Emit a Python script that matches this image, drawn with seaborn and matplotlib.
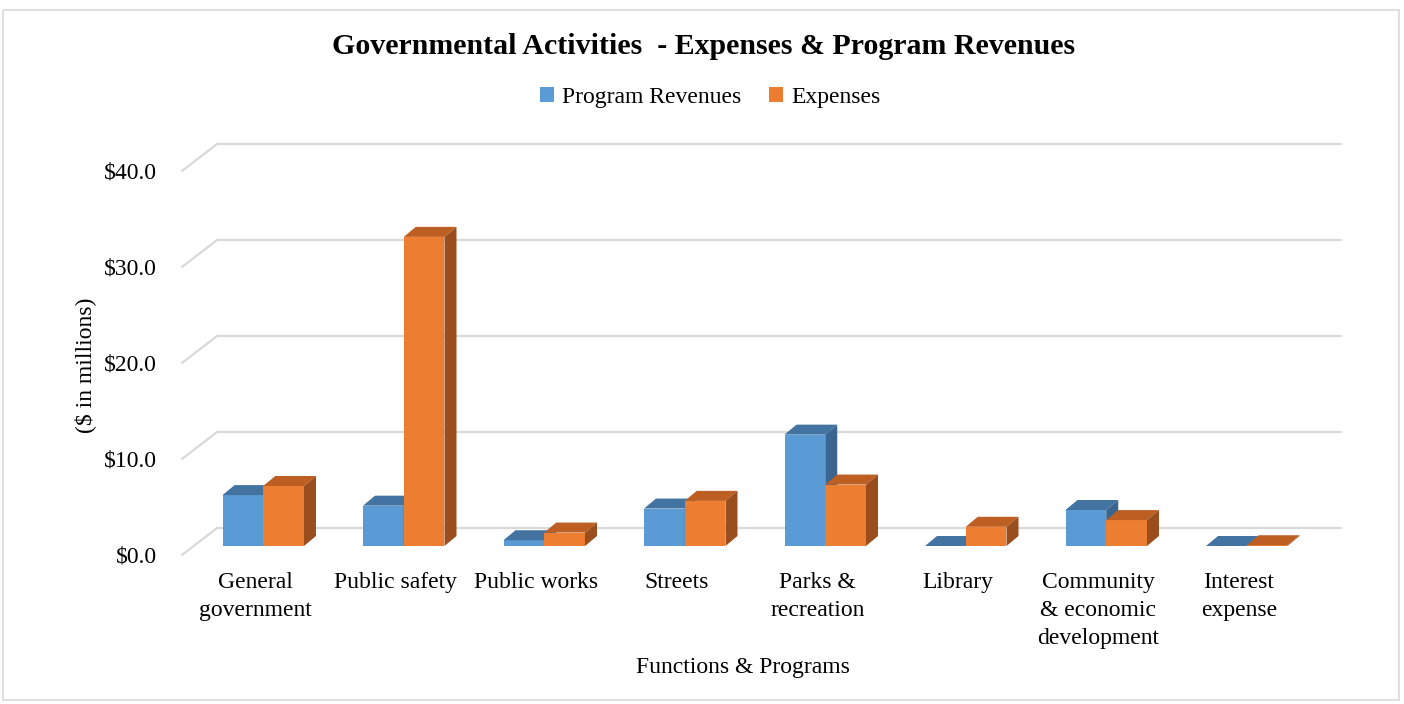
import matplotlib
matplotlib.use("Agg")
import matplotlib.pyplot as plt
import seaborn as sns
import pandas as pd
import numpy as np
from matplotlib.patches import Polygon, Rectangle, Patch
from matplotlib.lines import Line2D
from matplotlib.transforms import ScaledTranslation

categories = ["General\ngovernment", "Public safety", "Public works", "Streets",
              "Parks &\nrecreation", "Library", "Community\n& economic\ndevelopment",
              "Interest\nexpense"]
program_revenues = [5.3, 4.2, 0.6, 3.9, 11.6, 0.0, 3.75, 0.0]
expenses = [6.25, 32.2, 1.4, 4.7, 6.4, 2.0, 2.7, 0.08]
series_names = ["Program Revenues", "Expenses"]
y_ticks = [0, 10, 20, 30, 40]
y_tick_labels = ["$0.0", "$10.0", "$20.0", "$30.0", "$40.0"]

front_colors = {"Program Revenues": "#5B9BD5", "Expenses": "#ED7D31"}
top_colors = {"Program Revenues": "#4373A0", "Expenses": "#BD5F22"}
side_colors = {"Program Revenues": "#3A6590", "Expenses": "#9A4E1D"}

df = pd.DataFrame({
    "Function": categories * 2,
    "Value": program_revenues + expenses,
    "Series": [series_names[0]] * len(categories) + [series_names[1]] * len(categories),
})

sns.set_theme(style="white")
plt.rcParams["font.family"] = ["Liberation Serif", "DejaVu Serif"]
plt.rcParams["text.color"] = "black"
plt.rcParams["xtick.color"] = "black"
plt.rcParams["ytick.color"] = "black"

W, H = 1404, 704
fig = plt.figure(figsize=(W / 100, H / 100), dpi=100)
ax = fig.add_axes([193 / W, 1 - 546 / H, 1124 / W, 384 / H])

sns.barplot(data=df, x="Function", y="Value", hue="Series", hue_order=series_names,
            palette=front_colors, width=0.58, saturation=1, ax=ax, legend=False,
            errorbar=None)
ax.set_xlim(-0.5, len(categories) - 0.5)
ax.set_ylim(0, 40)
for s in ax.spines.values():
    s.set_visible(False)
ax.set_facecolor("none")

# pixel -> data conversions
px_x = (len(categories)) / 1124.0
px_y = 40.0 / 384.0

# depth offset of bars
bdx, bdy = 12 * px_x, 10 * px_y
for p in ax.patches:
    if not isinstance(p, Rectangle):
        continue
    fc = p.get_facecolor()
    name = None
    for n in series_names:
        if np.allclose(fc[:3], matplotlib.colors.to_rgb(front_colors[n]), atol=0.02):
            name = n
    if name is None:
        continue
    z = 2 if name == series_names[0] else 3
    p.set_zorder(z)
    p.set_edgecolor("none")
    x0, w, h = p.get_x(), p.get_width(), p.get_height()
    x1 = x0 + w
    top = Polygon([(x0, h), (x1, h), (x1 + bdx, h + bdy), (x0 + bdx, h + bdy)],
                  closed=True, facecolor=top_colors[name], edgecolor="none",
                  zorder=z + 0.1, clip_on=False)
    side = Polygon([(x1, 0), (x1 + bdx, bdy), (x1 + bdx, h + bdy), (x1, h)],
                   closed=True, facecolor=side_colors[name], edgecolor="none",
                   zorder=z + 0.1, clip_on=False)
    ax.add_patch(top)
    ax.add_patch(side)

# back wall gridlines + floor diagonals
wdx, wdy = 24 * px_x, 18 * px_y
fdx, fdy = -11 * px_x, -9 * px_y
xl, xr = -0.5, len(categories) - 0.5
for t in y_ticks:
    ax.add_line(Line2D([xl + wdx, xr + wdx], [t + wdy, t + wdy], color="#d9d9d9",
                       lw=1.6, zorder=0.5, clip_on=False))
    ax.add_line(Line2D([xl + fdx, xl + wdx], [t + fdy, t + wdy], color="#d9d9d9",
                       lw=1.6, zorder=0.5, clip_on=False))

ax.set_yticks(y_ticks)
ax.set_yticklabels(y_tick_labels, fontsize=17)
ax.tick_params(axis="y", length=0, pad=26)
for lab in ax.get_yticklabels():
    lab.set_transform(lab.get_transform() + ScaledTranslation(0, -0.09, fig.dpi_scale_trans))

ax.set_xticks(range(len(categories)))
ax.set_xticklabels(categories, fontsize=17, linespacing=1.42)
ax.tick_params(axis="x", length=0, pad=19)
for lab in ax.get_xticklabels():
    lab.set_transform(lab.get_transform() + ScaledTranslation(-0.08, 0, fig.dpi_scale_trans))

ax.set_xlabel("")
ax.set_ylabel("")
fig.text(85 / W, 1 - 365 / H, "($ in millions)", rotation=90, ha="center", va="center",
         fontsize=17)
fig.text(743 / W, 1 - 668 / H, "Functions & Programs", ha="center", va="center",
         fontsize=17)
fig.text(704 / W, 1 - 46 / H, "Governmental Activities  - Expenses & Program Revenues",
         ha="center", va="center", fontsize=21.5, fontweight="bold")

handles = [Patch(facecolor=front_colors[n], edgecolor="none") for n in series_names]
fig.legend(handles, series_names, loc="center", bbox_to_anchor=(710 / W, 1 - 97 / H),
           ncol=2, frameon=False, fontsize=17, handlelength=0.6, handleheight=0.6,
           handletextpad=0.35, columnspacing=1.15)

fig.patches.append(Rectangle((3 / W, 4 / H), 1396 / W, 1 - 14 / H, transform=fig.transFigure,
                             facecolor="none", edgecolor="#d9d9d9", lw=1.2))

fig.savefig("out.png", dpi=100)
